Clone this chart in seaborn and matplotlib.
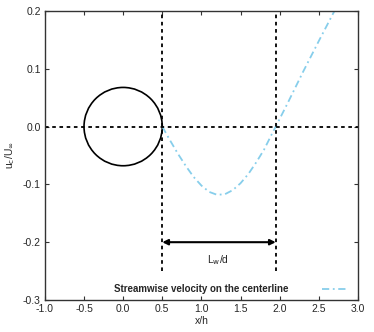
import numpy as np
import pandas as pd
import seaborn as sns
import matplotlib.pyplot as plt
from matplotlib.patches import Ellipse

# centerline streamwise velocity
x_h = [0.5, 0.6, 0.7, 0.8, 0.9, 1.0, 1.1, 1.2, 1.3, 1.4, 1.5, 1.6, 1.7,
       1.8, 1.9, 1.95, 2.1, 2.3, 2.5, 2.7]
u_c = [0.0, -0.024, -0.047, -0.068, -0.087, -0.102, -0.113, -0.118, -0.117,
       -0.110, -0.098, -0.082, -0.062, -0.040, -0.013, 0.0, 0.040, 0.095,
       0.148, 0.2]
wake_start = 0.5
wake_end = 1.95
x_ticks = [-1.0, -0.5, 0.0, 0.5, 1.0, 1.5, 2.0, 2.5, 3.0]
y_ticks = [-0.3, -0.2, -0.1, 0.0, 0.1, 0.2]

df = pd.DataFrame({'x': x_h, 'u': u_c})

sns.set_style('ticks')
plt.rcParams['font.family'] = ['Liberation Sans', 'DejaVu Sans']
plt.rcParams['font.size'] = 7.5

fig = plt.figure(figsize=(3.74, 3.32), dpi=100)
ax = fig.add_axes([0.120, 0.0964, 0.837, 0.8705])

sns.lineplot(data=df, x='x', y='u', ax=ax, color='#87CEEB', lw=1.3,
             linestyle=(0, (4, 2, 1, 2)),
             label='Streamwise velocity on the centerline')

# cylinder (drawn round on screen)
ax.add_patch(Ellipse((0, 0), 1.0, 0.1355, fill=False, ec='black', lw=1.2))

dash = (0, (2, 2))
ax.axhline(0, color='black', lw=1.3, linestyle=dash)
ax.plot([wake_start, wake_start], [-0.25, 0.2], color='black', lw=1.3, linestyle=dash)
ax.plot([wake_end, wake_end], [-0.25, 0.2], color='black', lw=1.3, linestyle=dash)

ax.annotate('', xy=(wake_start, -0.2), xytext=(wake_end, -0.2),
            arrowprops=dict(arrowstyle='<|-|>', color='black', lw=1.5,
                            mutation_scale=8, shrinkA=0, shrinkB=0))
ax.text((wake_start + wake_end) / 2 - 0.01, -0.231, r'L$_\mathrm{w}$/d',
        ha='center', va='center')

ax.set_xlim(-1.0, 3.0)
ax.set_ylim(-0.3, 0.2)
ax.set_xticks(x_ticks)
ax.set_yticks(y_ticks)
ax.set_xticklabels([f'{t:.1f}' for t in x_ticks])
ax.set_yticklabels([f'{t:.1f}' for t in y_ticks])
ax.tick_params(direction='in', length=3, width=0.8, top=True, right=True,
               color='#333333', pad=3)
for s in ax.spines.values():
    s.set_color('#333333')
    s.set_linewidth(1.0)

ax.set_xlabel('x/h', labelpad=1)
ax.set_ylabel(r'u$_\mathrm{c}$/U$_\infty$', labelpad=4)

leg = ax.legend(loc='lower right', bbox_to_anchor=(1.0, -0.01), frameon=False,
                markerfirst=False, handlelength=2.8, handletextpad=3.4,
                prop={'weight': 'bold', 'size': 7})

plt.savefig('out.png', dpi=100)
